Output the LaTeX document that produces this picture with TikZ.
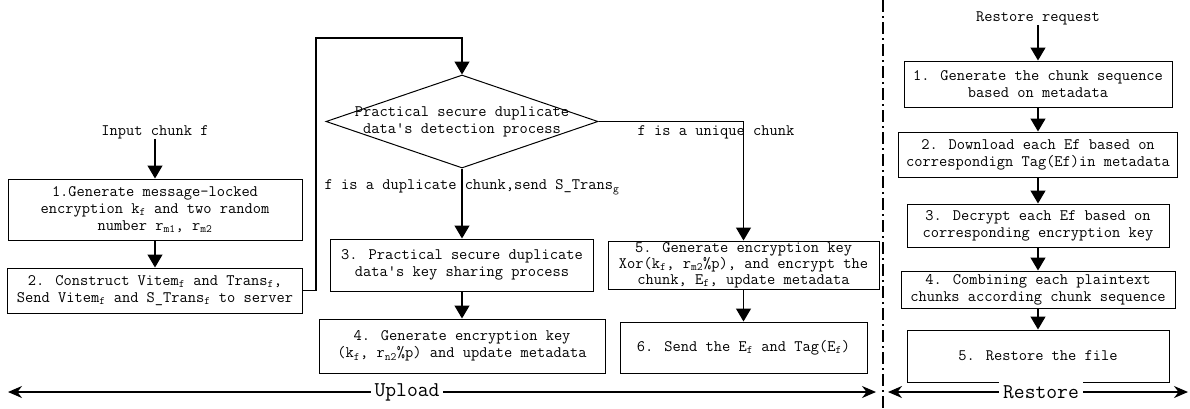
\documentclass[tikz,border=0pt]{standalone}
\usepackage{tikz}
\usetikzlibrary{arrows.meta,shapes.geometric}
\newcommand{\flowfont}{\fontsize{16}{17}\selectfont\ttfamily}
\newcommand{\sub}[1]{\textsubscript{#1}}
\tikzstyle{box} = [draw,rectangle,line width=1pt,align=center,font=\flowfont,inner xsep=2pt,inner ysep=0pt]
\tikzstyle{decision} = [draw,diamond,line width=1pt,inner sep=0pt,minimum width=272pt,minimum height=93pt]
\tikzstyle{txt} = [align=center,font=\flowfont,inner sep=0pt]
\tikzstyle{arr} = [draw,line width=1.3pt,-{Triangle[width=15pt,length=13pt]}]
\tikzstyle{span} = [draw,line width=1.6pt,{Stealth[width=12pt,length=14pt]}-{Stealth[width=12pt,length=14pt]}]
\tikzstyle{phase} = [fill=white,font=\fontsize{21}{23}\selectfont\ttfamily,inner xsep=4pt]

\begin{document}
\begin{tikzpicture}[x=1pt,y=-1pt]
    \useasboundingbox (0,0) rectangle (1190,408);

    % upload side, left column
    \node[txt] (in) at (155,132) {Input chunk f};
    \node[box,minimum width=294pt,minimum height=61pt] (b1) at (155,209.5)
        {1.Generate message-locked\\encryption k\sub{f} and two random\\number r\sub{m1}, r\sub{m2}};
    \node[box,minimum width=295pt,minimum height=45pt] (b2) at (155,290.5)
        {2. Construct Vitem\sub{f} and Trans\sub{f},\\Send Vitem\sub{f} and S\_Trans\sub{f} to server};

    % detection and the two branches
    \node[decision,label={[txt]center:Practical secure duplicate\\data's detection process}] (dec) at (462,121.5) {};
    \node[box,minimum width=263pt,minimum height=52pt] (b3) at (462,265)
        {3. Practical secure duplicate\\data's key sharing process};
    \node[box,minimum width=286pt,minimum height=54pt] (b4) at (462,346)
        {4. Generate encryption key\\(k\sub{f}, r\sub{n2}\%p) and update metadata};
    \node[box,minimum width=271pt,minimum height=48pt,font=\fontsize{16}{15.8}\selectfont\ttfamily] (b5) at (743.5,265)
        {5. Generate encryption key\\Xor(k\sub{f}, r\sub{m2}\%p), and encrypt the\\chunk, E\sub{f}, update metadata};
    \node[box,minimum width=247pt,minimum height=51pt] (b6) at (743.5,347.5)
        {6. Send the E\sub{f} and Tag(E\sub{f})};
    \coordinate (up) at (316,38);

    \foreach \source/\dest in {in/b1,b1/b2,dec/b3,b3/b4,b5/b6}
        \path[arr] (\source) -- (\dest);
    \path[arr] (b2.east) -| (up) -| (dec.north);
    \path[arr] (dec.east) -| (b5.north);
    \node[txt] (dup) at (472,187) {f is a duplicate chunk,send S\_Trans\sub{g}};
    \node[txt] (uni) at (716,132) {f is a unique chunk};

    % restore side
    \node[txt] (rq) at (1038,18) {Restore request};
    \foreach \name/\y/\w/\h/\lines in
    {r1/84/268/46/{1. Generate the chunk sequence\\based on metadata},
    r2/154.5/279/45/{2. Download each Ef based on\\correspondign Tag(Ef)in metadata},
    r3/225.5/262/43/{3. Decrypt each Ef based on\\corresponding encryption key},
    r4/289.5/274/37/{4. Combining each plaintext\\chunks according chunk sequence},
    r5/356/262/52/{5. Restore the file}}
        \node[box,minimum width=\w pt,minimum height=\h pt] (\name) at (1038,\y) {\lines};

    \foreach \source/\dest in {rq/r1,r1/r2,r2/r3,r3/r4,r4/r5}
        \path[arr] (\source) -- (\dest);

    % separator and phase spans
    \coordinate (sepT) at (883,0);
    \coordinate (sepB) at (883,408);
    \draw[line width=1.5pt,dash pattern=on 12pt off 4pt on 2pt off 4pt] (sepT) -- (sepB);
    \coordinate (upL) at (8,392);
    \coordinate (upR) at (876,392);
    \coordinate (reL) at (888,392);
    \coordinate (reR) at (1188,392);
    \path[span] (upL) -- (upR);
    \path[span] (reL) -- (reR);
    \node[phase] (upload) at (407,392) {Upload};
    \node[phase] (restore) at (1041,392) {Restore};
\end{tikzpicture}
\end{document}
